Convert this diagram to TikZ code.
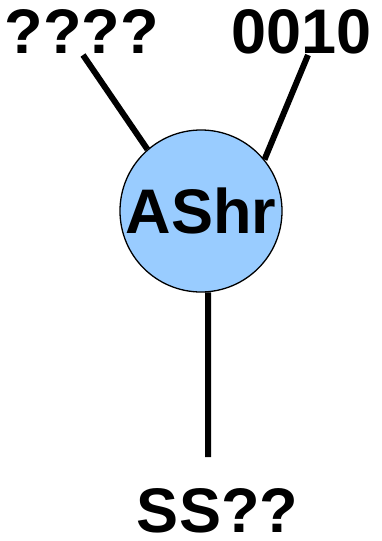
\documentclass[tikz,border=0pt]{standalone}
\usepackage{fontspec}
\setmainfont{Liberation Sans}
\usepackage{tikz}
\usetikzlibrary{positioning}

\begin{document}
\begin{tikzpicture}[x=1pt, y=-1pt,
    every node/.style={font=\fontsize{63}{63}\selectfont\bfseries, inner sep=0pt},
    opbox/.style={circle, draw=black, line width=1.3pt, fill=opblue,
      minimum size=162pt, inner sep=0pt},
    wire/.style={line width=6pt}]
  % Define colors
  \definecolor{opblue}{RGB}{153,204,255}

  \useasboundingbox (0,0) rectangle (382,541);

  % Operator
  \node[opbox] (ashr) at (201,211) {AShr};

  % Operands and result
  \node[anchor=base] (inA) at (81.5,53) {????};
  \node[anchor=base] (inB) at (301.5,53) {0010};
  \node[anchor=base] (out) at (217.5,532) {SS??};

  % Wire ends
  \coordinate (endA) at (83,55);
  \coordinate (endB) at (308,55);
  \coordinate (endO) at (208,457);

  % Wires
  \draw[wire] (endA) -- (ashr.131);
  \draw[wire] (endB) -- (ashr.39);
  \draw[wire] (ashr.-85) -- (endO);
\end{tikzpicture}
\end{document}
